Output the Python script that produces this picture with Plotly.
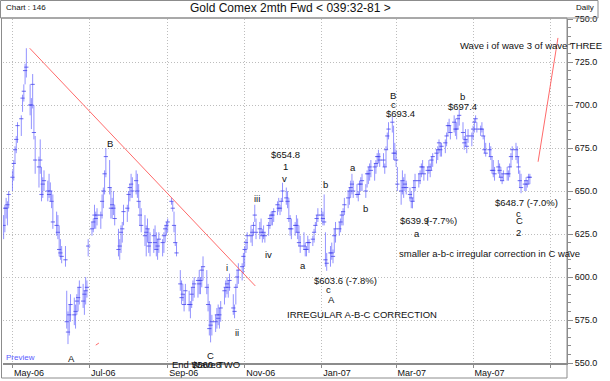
import pandas as pd
import plotly.graph_objects as go

# ---------------- data (daily bars, business days) ----------------
dates = pd.bdate_range("2006-04-24", "2007-06-15")

high = [
    636, 642, 646, 644, 650,   662, 668, 676, 682, 690,   694, 706, 712, 724, 733,
    712, 704, 718, 700, 682,   670, 680, 664, 658, 662,   656, 660, 655, 650, 648,
    638, 636, 630, 622, 618,   618, 592, 580, 584, 590,   588, 584, 590, 594, 598,
    596, 592, 600, 598, 622,   632, 634, 642, 638, 640,   638, 648, 652, 662, 675,
    668, 652, 646, 650, 642,   628, 622, 630, 632, 642,   642, 650, 654, 660, 658,
    662, 660, 654, 644, 640,   636, 630, 634, 628, 626,   628, 630, 626, 622, 626,
    622, 626, 630, 632, 634,   646, 644, 638, 630, 620,   604, 598, 596, 590, 596,
    592, 586, 594, 598, 600,   600, 604, 600, 606, 612,   604, 596, 586, 584, 578,
    578, 582, 584, 582, 586,   594, 598, 600, 598, 602,   590, 584, 596, 604, 608,
    608, 614, 618, 622, 626,   630, 628, 632, 642, 634,   632, 634, 628, 630, 626,
    632, 636, 638, 638, 640,   644, 646, 642, 646, 654.8, 652, 650, 646, 636, 634,
    632, 636, 634, 630, 624,   626, 620, 618, 624, 622,   624, 628, 632, 636, 640,
    640, 638, 648, 626, 614,   618, 620, 616, 628, 632,   632, 634, 638, 640, 646,
    650, 652, 656, 660, 656,   654, 650, 656, 658, 660,   654, 662, 664, 666, 668,
    666, 668, 672, 674, 672,   672, 666, 676, 684, 690,   693.4, 688, 678, 674, 664,
    656, 662, 658, 660, 656,   652, 650, 646, 656, 660,   660, 662, 666, 668, 664,
    664, 668, 666, 670, 672,   674, 676, 680, 678, 678,   680, 684, 690, 692, 688,
    694, 692, 690, 694, 697.4, 690, 682, 686, 680, 686,   684, 688, 692, 694, 690,
    688, 690, 686, 682, 678,   678, 676, 670, 668, 664,   668, 666, 664, 660, 662,
    664, 662, 666, 672, 676,   678, 676, 670, 662, 660,   656, 658, 656, 660, 660,
]

low = [
    622, 626, 634, 630, 640,   650, 656, 666, 672, 678,   682, 696, 702, 712, 716,
    694, 686, 698, 680, 660,   652, 660, 644, 646, 650,   644, 646, 644, 640, 628,
    624, 622, 612, 610, 608,   606, 570, 561, 566, 574,   572, 570, 578, 580, 584,
    582, 578, 584, 588, 612,   624, 626, 628, 628, 630,   628, 634, 640, 648, 658,
    648, 634, 634, 636, 630,   612, 610, 614, 620, 630,   632, 638, 644, 646, 646,
    648, 646, 640, 630, 626,   618, 612, 620, 614, 612,   614, 616, 612, 610, 614,
    612, 614, 620, 624, 626,   642, 638, 626, 618, 612,   592, 584, 586, 580, 584,
    580, 576, 582, 586, 588,   588, 590, 590, 594, 598,   590, 580, 566, 562, 566,
    568, 570, 572, 570, 574,   584, 588, 590, 588, 592,   578, 576, 584, 594, 596,
    598, 602, 606, 614, 616,   620, 618, 624, 632, 622,   622, 624, 620, 622, 620,
    624, 628, 630, 630, 632,   636, 638, 636, 638, 644,   642, 640, 632, 624, 622,
    624, 626, 622, 618, 614,   616, 612, 612, 616, 614,   618, 620, 626, 630, 632,
    632, 630, 630, 606, 603.6, 606, 610, 608, 614, 620,   624, 626, 630, 630, 636,
    640, 642, 646, 648, 646,   646, 644, 648, 650, 650,   646, 652, 654, 656, 658,
    656, 660, 664, 666, 664,   664, 660, 664, 674, 680,   684, 668, 668, 664, 650,
    642, 648, 646, 650, 648,   644, 640, 639.9, 644, 650, 652, 654, 658, 660, 656,
    656, 660, 658, 662, 664,   666, 668, 672, 670, 670,   672, 676, 682, 684, 680,
    684, 682, 680, 686, 688,   680, 674, 676, 672, 678,   676, 680, 684, 690, 684,
    682, 684, 680, 672, 670,   670, 668, 660, 658, 656,   660, 658, 656, 654, 656,
    656, 656, 658, 664, 668,   668, 666, 660, 652, 648.7, 650, 650, 652, 654, 654,
]

close = [
    630, 640, 640, 642, 648,   658, 666, 674, 680, 688,   692, 704, 708, 720, 722,
    700, 700, 712, 684, 668,   664, 668, 648, 654, 656,   650, 648, 650, 644, 632,
    630, 626, 616, 614, 612,   610, 574, 568, 578, 584,   578, 580, 586, 588, 594,
    586, 590, 592, 594, 618,   628, 632, 636, 634, 636,   636, 644, 650, 660, 670,
    652, 640, 642, 640, 634,   616, 618, 626, 628, 638,   640, 648, 652, 654, 650,
    656, 650, 644, 636, 630,   624, 626, 628, 618, 620,   624, 620, 616, 618, 622,
    620, 624, 628, 630, 632,   644, 640, 630, 620, 614,   596, 588, 590, 584, 592,
    584, 584, 590, 594, 596,   598, 596, 598, 604, 606,   594, 584, 570, 572, 574,
    574, 578, 576, 578, 582,   592, 594, 596, 594, 598,   582, 580, 594, 600, 604,
    606, 612, 616, 620, 624,   624, 626, 630, 636, 626,   628, 626, 624, 626, 624,
    630, 634, 636, 636, 638,   642, 640, 640, 644, 650,   646, 644, 634, 628, 628,
    630, 630, 626, 620, 618,   618, 616, 616, 620, 620,   622, 626, 630, 634, 636,
    636, 634, 632, 610, 608,   614, 614, 612, 624, 628,   628, 632, 636, 638, 642,
    646, 650, 652, 654, 650,   648, 648, 654, 654, 656,   650, 660, 660, 664, 662,
    664, 666, 670, 670, 668,   668, 664, 674, 682, 686,   690, 672, 672, 668, 654,
    650, 656, 652, 654, 652,   648, 646, 644, 652, 656,   656, 660, 664, 664, 660,
    662, 664, 662, 668, 670,   672, 674, 678, 674, 676,   678, 682, 688, 688, 684,
    690, 686, 686, 692, 694,   684, 678, 680, 676, 682,   682, 686, 690, 692, 686,
    686, 686, 682, 674, 672,   674, 670, 662, 662, 660,   664, 662, 658, 656, 660,
    660, 660, 664, 670, 674,   674, 670, 664, 656, 652,   654, 656, 654, 658, 658,
]

# trend lines (date, price)
trend1_x = ["2006-05-14 16:00", "2006-11-09 10:00"]
trend1_y = [733.0, 594.8]
trend2_x = ["2007-06-21 12:00", "2007-07-07 06:00"]
trend2_y = [667.0, 739.0]
stub_x = ["2006-07-06", "2006-07-08 12:00"]
stub_y = [560.4, 561.6]

tick_dates = ["2006-05-01", "2006-07-01", "2006-09-01", "2006-11-01",
              "2007-01-01", "2007-03-01", "2007-05-01", "2007-07-01"]
tick_text = ["May-06", "Jul-06", "Sep-06", "Nov-06", "Jan-07", "Mar-07", "May-07", ""]

# ---------------- figure ----------------
BAR = "rgba(110,110,255,0.75)"
FONT = "Liberation Sans, Arial, sans-serif"

bx, by = [], []
for d, h, l in zip(dates, high, low):
    bx += [d, d, None]
    by += [l, h, None]

fig = go.Figure()
fig.add_trace(go.Scatter(x=bx, y=by, mode="lines", line=dict(color=BAR, width=1),
                         hoverinfo="skip"))
fig.add_trace(go.Scatter(x=list(dates), y=close, mode="markers",
                         marker=dict(symbol="line-ew", size=3,
                                     line=dict(color="rgba(70,70,235,0.8)", width=1)),
                         hoverinfo="skip"))
RED = "rgba(255,90,90,0.9)"
for tx, ty in [(trend1_x, trend1_y), (trend2_x, trend2_y), (stub_x, stub_y)]:
    fig.add_trace(go.Scatter(x=tx, y=ty, mode="lines", line=dict(color=RED, width=1),
                             hoverinfo="skip"))

L, R, T, B = 3, 567, 19, 363  # plot area in pixels


def px(x):
    return (x - L) / (R - L)


def py(y):
    return (B - y) / (B - T)


labels = [
    ("B", 110, 143), ("A", 71, 358), ("C", 210, 355),
    ("End Wave TWO", 206, 364), ("$560.8", 206, 364),
    ("i", 227, 267), ("ii", 237, 332), ("iii", 257, 198), ("iv", 268, 254),
    ("v", 284, 178), ("1", 285, 166), ("$654.8", 285, 154),
    ("a", 303, 265), ("b", 325, 184), ("$603.6 (-7.8%)", 345, 280),
    ("c", 328, 289), ("A", 331, 299), ("IRREGULAR A-B-C CORRECTION", 362, 314),
    ("a", 353, 167), ("b", 365, 208),
    ("B", 393, 96), ("c", 393, 104), ("$693.4", 400, 113),
    ("$639.9", 414, 221), ("(-7.7%)", 441, 221), ("a", 417, 233),
    ("b", 462, 97), ("$697.4", 462, 106),
    ("$648.7 (-7.0%)", 526, 202), ("c", 518, 213), ("C", 519, 221), ("2", 518, 232),
    ("smaller a-b-c irregular correction in C wave", 489, 253),
    ("Wave i of wave 3 of wave THREE", 531, 45),
]
annotations = []
for text, x, y in labels:
    annotations.append(dict(text=text, x=px(x), y=py(y), xref="paper", yref="paper",
                            xanchor="center", yanchor="middle", showarrow=False,
                            font=dict(family=FONT, size=9.5, color="#111")))
annotations.append(dict(text="Preview", x=px(4), y=py(357), xref="paper", yref="paper",
                        xanchor="left", yanchor="middle", showarrow=False,
                        font=dict(family=FONT, size=8, color="#5a5aff")))
annotations.append(dict(text="Chart : 146", x=px(4), y=py(8), xref="paper", yref="paper",
                        xanchor="left", yanchor="middle", showarrow=False,
                        font=dict(family=FONT, size=8, color="#111")))
annotations.append(dict(text="Gold Comex 2mth Fwd < 039:32-81 >", x=px(290), y=py(8),
                        xref="paper", yref="paper", xanchor="center", yanchor="middle",
                        showarrow=False, font=dict(family=FONT, size=12, color="#111")))
annotations.append(dict(text="Daily", x=px(596), y=py(8), xref="paper", yref="paper",
                        xanchor="right", yanchor="middle", showarrow=False,
                        font=dict(family=FONT, size=8, color="#111")))

GRAYLINE = "#8c8c8c"
shapes = [
    dict(type="rect", xref="paper", yref="paper", x0=px(1.5), x1=px(567), y0=py(378),
         y1=py(18), line=dict(color=GRAYLINE, width=1), layer="above"),
    dict(type="rect", xref="paper", yref="paper", x0=px(0.5), x1=px(598), y0=py(18),
         y1=py(0.5), line=dict(color=GRAYLINE, width=1), layer="above"),
]

fig.update_layout(
    width=610, height=381,
    margin=dict(l=L, r=610 - R, t=T, b=381 - B, autoexpand=False),
    paper_bgcolor="white", plot_bgcolor="white", showlegend=False,
    font=dict(family=FONT, size=9, color="#111"),
    annotations=annotations, shapes=shapes,
)
fig.update_xaxes(
    type="date", range=["2006-04-23 12:00", "2007-07-14 10:00"],
    tickvals=tick_dates, ticktext=tick_text, ticklabelposition="outside right",
    showgrid=True, gridcolor="#bdbdbd", griddash="1px,2px", gridwidth=1,
    showline=True, linecolor=GRAYLINE, linewidth=2,
    ticks="outside", ticklen=3, tickcolor=GRAYLINE,
    tickfont=dict(family=FONT, size=9, color="#111"), zeroline=False, fixedrange=True,
    automargin=False,
)
fig.update_yaxes(
    range=[550, 750], side="right", tick0=550, dtick=25, tickformat=".1f",
    showgrid=True, gridcolor="#bdbdbd", griddash="1px,2px", gridwidth=1,
    showline=True, linecolor=GRAYLINE, linewidth=1,
    ticks="outside", ticklen=5, tickcolor=GRAYLINE,
    minor=dict(dtick=5, tick0=550, ticks="outside", ticklen=3, tickcolor=GRAYLINE,
               showgrid=False),
    tickfont=dict(family=FONT, size=9, color="#111"), zeroline=False, fixedrange=True,
    automargin=False,
)

fig.write_html("out.html", config={"displayModeBar": False},
               post_script="document.body.style.margin='0';document.body.style.padding='0';")
